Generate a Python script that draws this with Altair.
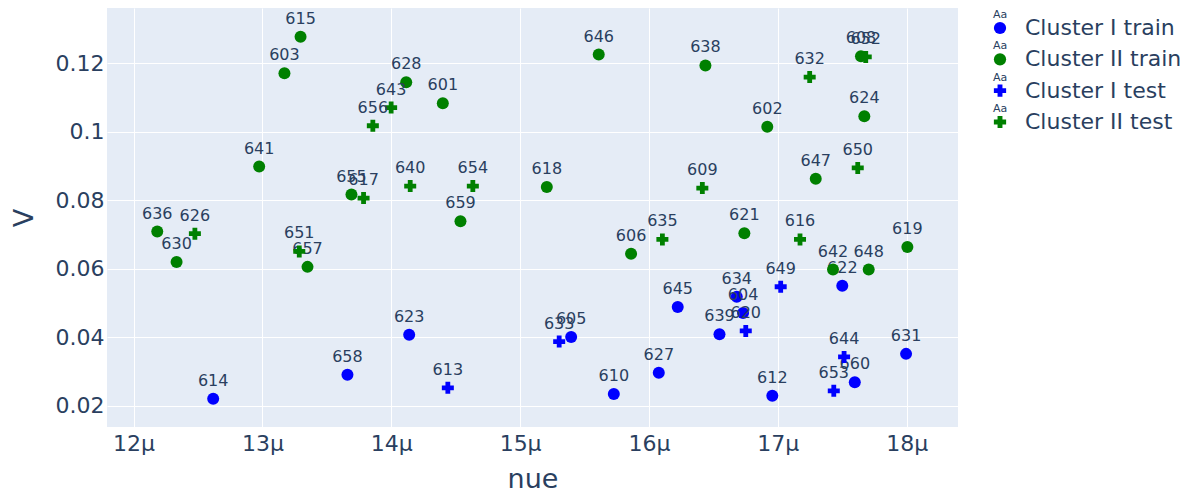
import altair as alt
import pandas as pd

FONT = "DejaVu Sans"
TXT = "#2a3f5f"

series_names = ["Cluster I train", "Cluster II train", "Cluster I test", "Cluster II test"]
series_colors = ["blue", "green", "blue", "green"]
series_shapes = ["circle", "circle", "cross", "cross"]

# Cluster I train
c1_train_id = ["623", "658", "614", "605", "627", "610", "612", "645", "634", "604", "639", "622", "660", "631"]
c1_train_nue = [14.139, 13.660, 12.618, 15.396, 16.076, 15.727, 16.957, 16.223, 16.681, 16.730, 16.547, 17.500, 17.597, 17.995]
c1_train_v = [0.0408, 0.0291, 0.0221, 0.0401, 0.0297, 0.0235, 0.0230, 0.0489, 0.0519, 0.0471, 0.0409, 0.0551, 0.0269, 0.0352]

# Cluster II train
c2_train_id = ["615", "603", "628", "601", "641", "655", "659", "636", "630", "657", "618", "646", "638", "608",
               "624", "602", "647", "621", "606", "619", "642", "648"]
c2_train_nue = [13.296, 13.171, 14.116, 14.400, 12.975, 13.691, 14.537, 12.184, 12.334, 13.350, 15.207, 15.610,
                16.438, 17.645, 17.671, 16.918, 17.294, 16.740, 15.861, 18.005, 17.428, 17.705]
c2_train_v = [0.1278, 0.1171, 0.1145, 0.1084, 0.0899, 0.0817, 0.0739, 0.0709, 0.0620, 0.0606, 0.0839, 0.1226,
              0.1194, 0.1221, 0.1046, 0.1015, 0.0863, 0.0704, 0.0644, 0.0664, 0.0598, 0.0598]

# Cluster I test
c1_test_id = ["613", "633", "620", "649", "644", "653"]
c1_test_nue = [14.439, 15.303, 16.751, 17.022, 17.514, 17.434]
c1_test_v = [0.0253, 0.0388, 0.0419, 0.0548, 0.0343, 0.0244]

# Cluster II test
c2_test_id = ["643", "656", "617", "640", "654", "626", "651", "632", "652", "650", "609", "635", "616"]
c2_test_nue = [13.999, 13.857, 13.785, 14.147, 14.633, 12.476, 13.286, 17.247, 17.682, 17.620, 16.414, 16.104, 17.172]
c2_test_v = [0.1071, 0.1018, 0.0807, 0.0842, 0.0842, 0.0703, 0.0651, 0.1160, 0.1219, 0.0895, 0.0836, 0.0686, 0.0686]

x_ticks = [12, 13, 14, 15, 16, 17, 18]
y_ticks = [0.02, 0.04, 0.06, 0.08, 0.10, 0.12]
x_domain = [11.794, 18.398]
y_domain = [0.01385, 0.13618]

groups = [
    (series_names[0], c1_train_id, c1_train_nue, c1_train_v),
    (series_names[1], c2_train_id, c2_train_nue, c2_train_v),
    (series_names[2], c1_test_id, c1_test_nue, c1_test_v),
    (series_names[3], c2_test_id, c2_test_nue, c2_test_v),
]
rows = []
for name, ids, xs, ys in groups:
    for i, xv, yv in zip(ids, xs, ys):
        rows.append({"series": name, "id": i, "nue": xv, "V": yv})
df = pd.DataFrame(rows)

color_scale = alt.Scale(domain=series_names, range=series_colors)
shape_scale = alt.Scale(domain=series_names, range=series_shapes)
size_scale = alt.Scale(domain=series_names, range=[144, 144, 170, 170])

X = alt.X("nue:Q", scale=alt.Scale(domain=x_domain, nice=False, zero=False),
          axis=alt.Axis(values=x_ticks, labelExpr="datum.value + 'μ'", title="nue",
                        titleBaseline="alphabetic", titleY=60, titleFontSize=27,
                        labelPadding=6, labelFontSize=22))
Y = alt.Y("V:Q", scale=alt.Scale(domain=y_domain, nice=False, zero=False),
          axis=alt.Axis(values=y_ticks, format="~g", title="V", titleBaseline="alphabetic",
                        titleX=-75, titleFontSize=27, labelPadding=3, labelFontSize=22))

base = alt.Chart(df).encode(x=X, y=Y)

main_layers = []
for name in series_names:
    sub = base.transform_filter(alt.datum.series == name)
    main_layers.append(
        sub.mark_point(filled=True, opacity=1, strokeWidth=0).encode(
            color=alt.Color("series:N", scale=color_scale, legend=None),
            shape=alt.Shape("series:N", scale=shape_scale, legend=None),
            size=alt.Size("series:N", scale=size_scale, legend=None),
        )
    )
    main_layers.append(
        sub.mark_text(dy=-13, baseline="alphabetic", align="center", fontSize=16, font=FONT, color=TXT)
        .encode(text="id:N")
    )
main = alt.layer(*main_layers)

leg_df = pd.DataFrame({"series": series_names})
leg_y = alt.Y("series:N", sort=series_names,
              scale=alt.Scale(domain=series_names, range=[20, 114], padding=0), axis=None)
leg_base = alt.Chart(leg_df).encode(y=leg_y)
leg_sym = leg_base.mark_point(filled=True, opacity=1, strokeWidth=0).encode(
    x=alt.value(893),
    color=alt.Color("series:N", scale=color_scale, legend=None),
    shape=alt.Shape("series:N", scale=shape_scale, legend=None),
    size=alt.value(150),
)
leg_aa = leg_base.mark_text(dy=-13, baseline="middle", align="center", fontSize=11, font=FONT,
                            color=TXT).encode(x=alt.value(893), text=alt.value("Aa"))
leg_txt = leg_base.mark_text(baseline="middle", align="left", fontSize=22, font=FONT,
                             color=TXT).encode(x=alt.value(918), text="series:N")
legend = alt.layer(leg_sym, leg_aa, leg_txt)

chart = (
    alt.layer(main, legend)
    .resolve_scale(y="independent")
    .properties(
        width=851, height=419,
        autosize=alt.AutoSizeParams(type="none"),
        padding={"left": 99, "top": 0, "right": 232, "bottom": 66},
    )
    .configure_view(fill="#E5ECF6", stroke=None)
    .configure_axis(
        grid=True, gridColor="white", gridWidth=1, domain=False, ticks=False, tickSize=0,
        labelFont=FONT, titleFont=FONT, labelColor=TXT, titleColor=TXT,
        titleFontWeight="normal",
    )
)

chart.save("out.html", embed_options={"renderer": "svg", "actions": False})
